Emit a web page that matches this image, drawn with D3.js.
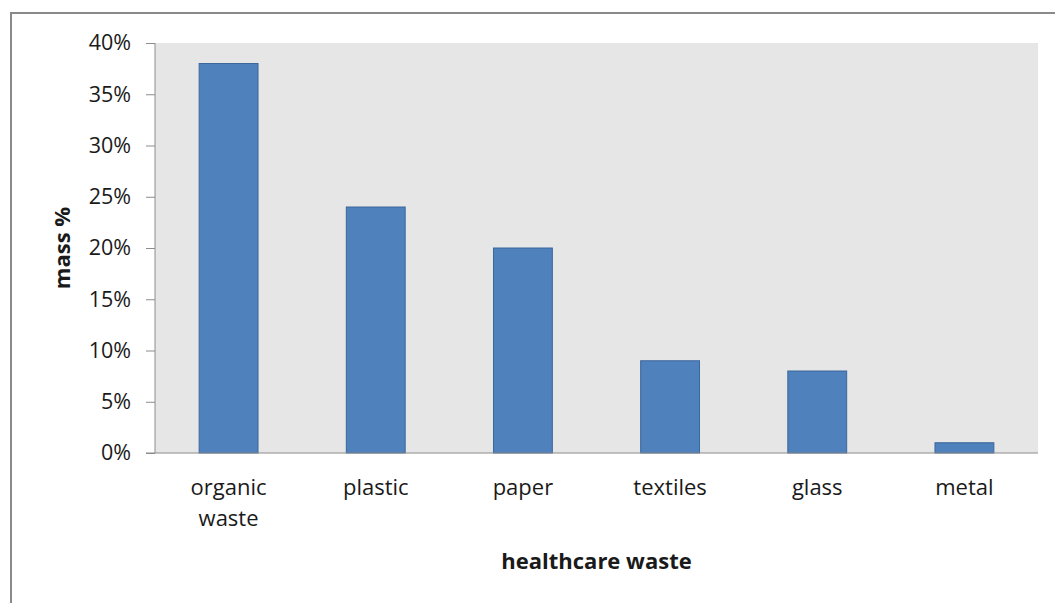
<!DOCTYPE html>
<html><head><meta charset="utf-8">
<script src="https://cdn.jsdelivr.net/npm/d3@7"></script>
<style>
body{margin:0;background:#fff;}
text{font-family:"Open Sans",Lato,sans-serif;fill:#1a1a1a;}
</style></head>
<body>
<svg id="c" width="1055" height="603"></svg>
<script>
const categories = [["organic","waste"],["plastic"],["paper"],["textiles"],["glass"],["metal"]];
const values = [38, 24, 20, 9, 8, 1];
const yTicks = [0, 5, 10, 15, 20, 25, 30, 35, 40];
const xTitle = "healthcare waste";
const yTitle = "mass %";

const svg = d3.select("#c");
const m = {left:155, right:1038, top:43, bottom:453};

// outer frame
svg.append("rect").attr("x",11).attr("y",13).attr("width",1100).attr("height",700)
  .attr("fill","#fff").attr("stroke","#8a8a8a").attr("stroke-width",2);

const x = d3.scaleBand().domain(categories.map((d,i)=>i)).range([m.left,m.right]).paddingInner(0.6).paddingOuter(0.3);
const y = d3.scaleLinear().domain([0,40]).range([m.bottom,m.top]);

svg.append("rect").attr("x",m.left).attr("y",m.top).attr("width",m.right-m.left).attr("height",m.bottom-m.top).attr("fill","#e6e6e6");

svg.selectAll(".bar").data(values).enter().append("rect")
  .attr("x",(d,i)=>x(i)).attr("y",d=>y(d)).attr("width",x.bandwidth()).attr("height",d=>y(0)-y(d))
  .attr("fill","#4f81bd").attr("stroke","#3b679c").attr("stroke-width",1);

const ya = d3.axisLeft(y).tickValues(yTicks).tickFormat(d=>d+"%").tickSize(9).tickPadding(15);
const gy = svg.append("g").attr("transform",`translate(${m.left},0)`).call(ya);
gy.select(".domain").attr("stroke","#8c8c8c").attr("d",`M0,${m.top}V${m.bottom}`);
gy.selectAll(".tick line").attr("stroke","#8c8c8c");
gy.selectAll("text").style("font-size","21.5px").style("font-family","'Open Sans',sans-serif").attr("fill","#1a1a1a");

svg.append("line").attr("x1",m.left-9).attr("x2",m.right).attr("y1",m.bottom).attr("y2",m.bottom).attr("stroke","#8c8c8c");

categories.forEach((lines,i)=>{
  const cx = x(i)+x.bandwidth()/2;
  const t = svg.append("text").attr("x",cx).attr("y",495).attr("text-anchor","middle").style("font-size","22px");
  lines.forEach((l,j)=>t.append("tspan").attr("x",cx).attr("dy",j?31:0).text(l));
});

svg.append("text").attr("x",(m.left+m.right)/2).attr("y",569).attr("text-anchor","middle")
  .style("font-size","22px").style("font-weight","bold").text(xTitle);
svg.append("text").attr("transform",`translate(70,${(m.top+m.bottom)/2}) rotate(-90)`).attr("text-anchor","middle")
  .style("font-size","22px").style("font-weight","bold").text(yTitle);
</script>
</body></html>
